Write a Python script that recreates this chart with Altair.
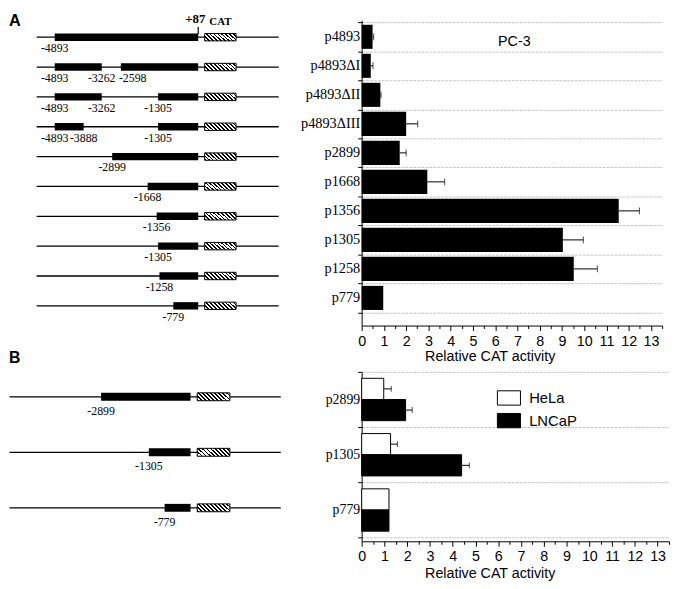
import altair as alt
import pandas as pd

# ---------------- data ----------------
A_CONSTRUCTS = ["p4893", "p4893ΔI", "p4893ΔII", "p4893ΔIII", "p2899",
                "p1668", "p1356", "p1305", "p1258", "p779"]
A_ACTIVITY = [0.49, 0.41, 0.84, 2.00, 1.71, 2.95, 11.55, 9.04, 9.53, 0.97]
A_UPPER = [0.54, 0.51, 0.87, 2.52, 2.00, 3.73, 12.48, 9.96, 10.59, None]

# promoter fragments (start, end) in bp for each construct row
A_FRAGMENTS = [
    [(-4893, 87)],
    [(-4893, -3262), (-2598, 87)],
    [(-4893, -3262), (-1305, 87)],
    [(-4893, -3888), (-1305, 87)],
    [(-2899, 87)],
    [(-1668, 87)],
    [(-1356, 87)],
    [(-1305, 87)],
    [(-1258, 87)],
    [(-779, 87)],
]

B_CONSTRUCTS = ["p2899", "p1305", "p779"]
B_CELLS = ["HeLa", "LNCaP"]
B_HELA = [0.97, 1.27, 1.20]
B_HELA_UPPER = [1.30, 1.57, None]
B_LNCAP = [1.93, 4.39, 1.20]
B_LNCAP_UPPER = [2.22, 4.73, None]
B_FRAGMENTS = [[(-2899, 87)], [(-1305, 87)], [(-779, 87)]]

CAT_REGION = (310, 1400)
A_BACKBONE = (-5520, 2880)
B_BACKBONE = (-5960, 3100)

SERIF = "Liberation Serif"
SANS = "Liberation Sans"

# hatched fill for the CAT reporter box
n_stripes = 10
stops = [alt.GradientStop(offset=0, color="white")]
for k in range(n_stripes):
    a = k / n_stripes
    b = a + 0.45 / n_stripes
    stops += [alt.GradientStop(offset=a, color="white"),
              alt.GradientStop(offset=a, color="black"),
              alt.GradientStop(offset=b, color="black"),
              alt.GradientStop(offset=b, color="white")]
stops.append(alt.GradientStop(offset=1, color="white"))
HATCH = alt.LinearGradient(gradient="linear", stops=stops,
                           x1=0, y1=1, x2=1.1765, y2=0.7059)


def site_labels(fragments):
    """Label every fragment boundary except the common +87 end."""
    out = []
    for i, frags in enumerate(fragments):
        prev_end = None
        for s, e in frags:
            gap = None if prev_end is None else s - prev_end
            out.append({"row": i, "pos": s, "text": str(s),
                        "left": gap is not None and gap < 1000})
            if e != 87:
                out.append({"row": i, "pos": e, "text": str(e), "left": False})
            prev_end = e
    return pd.DataFrame(out)


def diagram(fragments, backbone, xdom, ydom, label_dy, box_size):
    n = len(fragments)
    bb = pd.DataFrame({"row": list(range(n)), "start": backbone[0], "end": backbone[1]})
    frag = pd.DataFrame([{"row": i, "start": s, "end": e}
                         for i, f in enumerate(fragments) for s, e in f])
    cat = pd.DataFrame({"row": list(range(n)), "start": CAT_REGION[0], "end": CAT_REGION[1]})
    lab = site_labels(fragments)
    xs = alt.Scale(domain=xdom, nice=False, zero=False, padding=0)
    ys = alt.Scale(domain=ydom, nice=False, zero=False, reverse=True, padding=0)

    def X(f):
        return alt.X(f"{f}:Q", scale=xs, axis=None)
    Y = alt.Y("row:Q", scale=ys, axis=None)

    line = alt.Chart(bb).mark_rule(color="black", strokeWidth=1.3).encode(
        x=X("start"), x2="end:Q", y=Y)
    boxes = alt.Chart(frag).mark_bar(color="black", size=box_size).encode(
        x=X("start"), x2="end:Q", y=Y)
    catbox = alt.Chart(cat).mark_bar(fill=HATCH, stroke="black", strokeWidth=1,
                                     size=box_size).encode(
        x=X("start"), x2="end:Q", y=Y)
    text_c = alt.Chart(lab).transform_filter("!datum.left").mark_text(
        font=SERIF, fontSize=12, dy=label_dy, color="black").encode(
        x=X("pos"), y=Y, text="text:N")
    text_l = alt.Chart(lab).transform_filter("datum.left").mark_text(
        font=SERIF, fontSize=12, dy=label_dy, align="left", dx=-2, color="black").encode(
        x=X("pos"), y=Y, text="text:N")
    return [line, boxes, catbox, text_c, text_l], xs


def x_axis(title_pad):
    return alt.Axis(
        values=[i * 0.5 for i in range(28)],
        labelExpr="datum.value % 1 === 0 ? format(datum.value, 'd') : ''",
        tickSize={"condition": {"test": "datum.value % 1 !== 0", "value": 3}, "value": 5},
        tickColor="black", domainColor="black", grid=False,
        labelFont=SANS, labelFontSize=14.5, labelColor="black", labelPadding=4,
        labelFlush=False, labelOverlap=False,
        title="Relative CAT activity", titleFont=SANS, titleFontSize=14.5,
        titleFontWeight="normal", titleColor="black", titlePadding=title_pad,
        titleX=130, titleAlign="center")


def y_axis(fs):
    return alt.Axis(
        title=None, tickBand="extent", grid=True, gridColor="#c4c4c4",
        gridDash=[3, 1], gridWidth=1, tickSize=4, tickColor="black",
        domainColor="black", labelFont=SERIF, labelFontSize=fs,
        labelColor="black", labelPadding=-2, labelLimit=200)


# ---------------- panel A diagram ----------------
layersA, xsA_d = diagram(A_FRAGMENTS, A_BACKBONE, [-6480, 3160], [-0.57, 9.66], 11, 7.5)
ann = alt.Chart(pd.DataFrame({"k": [0]}))
letterA = ann.mark_text(text="A", font=SANS, fontSize=16.5, fontWeight="bold",
                        align="left", baseline="top", color="black").encode(
    x=alt.value(0), y=alt.value(-7))
plus87 = ann.mark_text(text="+87", font=SERIF, fontSize=13, fontWeight="bold",
                       baseline="top", dx=-3, color="black").encode(
    x=alt.X(datum=87, type="quantitative", scale=xsA_d), y=alt.value(-7))
catlab = ann.mark_text(text="CAT", font=SERIF, fontSize=11, fontWeight="bold",
                       baseline="alphabetic", color="black").encode(
    x=alt.X(datum=(CAT_REGION[0] + CAT_REGION[1]) / 2, type="quantitative", scale=xsA_d),
    y=alt.value(5))
tick87 = ann.mark_rule(color="black", strokeWidth=1.2).encode(
    x=alt.X(datum=87, type="quantitative", scale=xsA_d),
    y=alt.value(7), y2=alt.value(14.3))
diagA = alt.layer(*layersA, tick87, plus87, catlab, letterA).properties(width=282, height=310)

# ---------------- panel A bars ----------------
dfA = pd.DataFrame({"construct": A_CONSTRUCTS, "activity": A_ACTIVITY, "upper": A_UPPER})
xsA = alt.Scale(domain=[0, 13.5], nice=False, zero=True)
ysA = alt.Scale(domain=A_CONSTRUCTS, paddingInner=0, paddingOuter=0.263, align=0.14)
yA = alt.Y("construct:N", scale=ysA, sort=None, axis=y_axis(14.5))
xaA = x_axis(2)
barsA = alt.Chart(dfA).mark_bar(color="black", height={"band": 0.83}).encode(
    x=alt.X("activity:Q", scale=xsA, axis=xaA), y=yA)
errA = alt.Chart(dfA).transform_filter("datum.upper != null").mark_rule(
    color="black", strokeWidth=1).encode(
    x=alt.X("activity:Q", scale=xsA, axis=xaA), x2="upper:Q", y=yA)
capA = alt.Chart(dfA).transform_filter("datum.upper != null").mark_tick(
    color="black", thickness=1, size=7, orient="vertical").encode(
    x=alt.X("upper:Q", scale=xsA, axis=xaA), y=yA)
pc3 = alt.Chart(pd.DataFrame({"construct": ["p4893"], "x": [6.86], "t": ["PC-3"]})).mark_text(
    font=SANS, fontSize=14.5, dy=5, color="black").encode(
    x=alt.X("x:Q", scale=xsA, axis=xaA), y=yA, text="t:N")
barA = alt.layer(barsA, errA, capA, pc3).properties(width=305, height=310)

# ---------------- panel B diagram ----------------
layersB, xsB_d = diagram(B_FRAGMENTS, B_BACKBONE, [-5975, 3136], [-0.449, 2.603], 14, 8)
letterB = ann.mark_text(text="B", font=SANS, fontSize=16, fontWeight="bold",
                        align="left", baseline="alphabetic", color="black").encode(
    x=alt.value(0), y=alt.value(-8.7))
diagB = alt.layer(*layersB, letterB).properties(width=277, height=172)

# ---------------- panel B bars ----------------
rows = []
for i, c in enumerate(B_CONSTRUCTS):
    rows.append({"construct": c, "cell": "HeLa", "activity": B_HELA[i], "upper": B_HELA_UPPER[i]})
    rows.append({"construct": c, "cell": "LNCaP", "activity": B_LNCAP[i], "upper": B_LNCAP_UPPER[i]})
dfB = pd.DataFrame(rows)
xsB = alt.Scale(domain=[0, 13.5], nice=False, zero=True)
ysB = alt.Scale(domain=B_CONSTRUCTS, paddingInner=0, paddingOuter=0.033, align=0)
yB = alt.Y("construct:N", scale=ysB, sort=None, axis=y_axis(14))
yoB = alt.YOffset("cell:N", scale=alt.Scale(domain=B_CELLS, paddingInner=0, paddingOuter=0.305))
xaB = x_axis(3)
barsB = alt.Chart(dfB).mark_bar(stroke="black", strokeWidth=1).encode(
    x=alt.X("activity:Q", scale=xsB, axis=xaB), y=yB, yOffset=yoB,
    fill=alt.Fill("cell:N", scale=alt.Scale(domain=B_CELLS, range=["white", "black"]),
                  legend=alt.Legend(orient="none", legendX=137, legendY=14, title=None,
                                    symbolType="M-1,-0.62H1V0.62H-1Z", symbolSize=548,
                                    symbolStrokeColor="black", symbolStrokeWidth=1,
                                    labelFont=SANS, labelFontSize=15, labelColor="black",
                                    labelOffset=8, rowPadding=1, padding=0)))
errB = alt.Chart(dfB).transform_filter("datum.upper != null").mark_rule(
    color="black", strokeWidth=1).encode(
    x=alt.X("activity:Q", scale=xsB, axis=xaB), x2="upper:Q", y=yB, yOffset=yoB)
capB = alt.Chart(dfB).transform_filter("datum.upper != null").mark_tick(
    color="black", thickness=1, size=6, orient="vertical").encode(
    x=alt.X("upper:Q", scale=xsB, axis=xaB), y=yB, yOffset=yoB)
barB = alt.layer(barsB, errB, capB).properties(width=312, height=172)

chart = alt.concat(
    diagA, barA, diagB, barB, columns=2,
    spacing={"row": 47, "column": 76}, bounds="flush", align="none",
).resolve_legend(fill="independent").properties(padding=0).configure(
    font=SANS).configure_view(strokeWidth=0, stroke="transparent")

chart.save("out.html", embed_options={"renderer": "svg", "actions": False})
